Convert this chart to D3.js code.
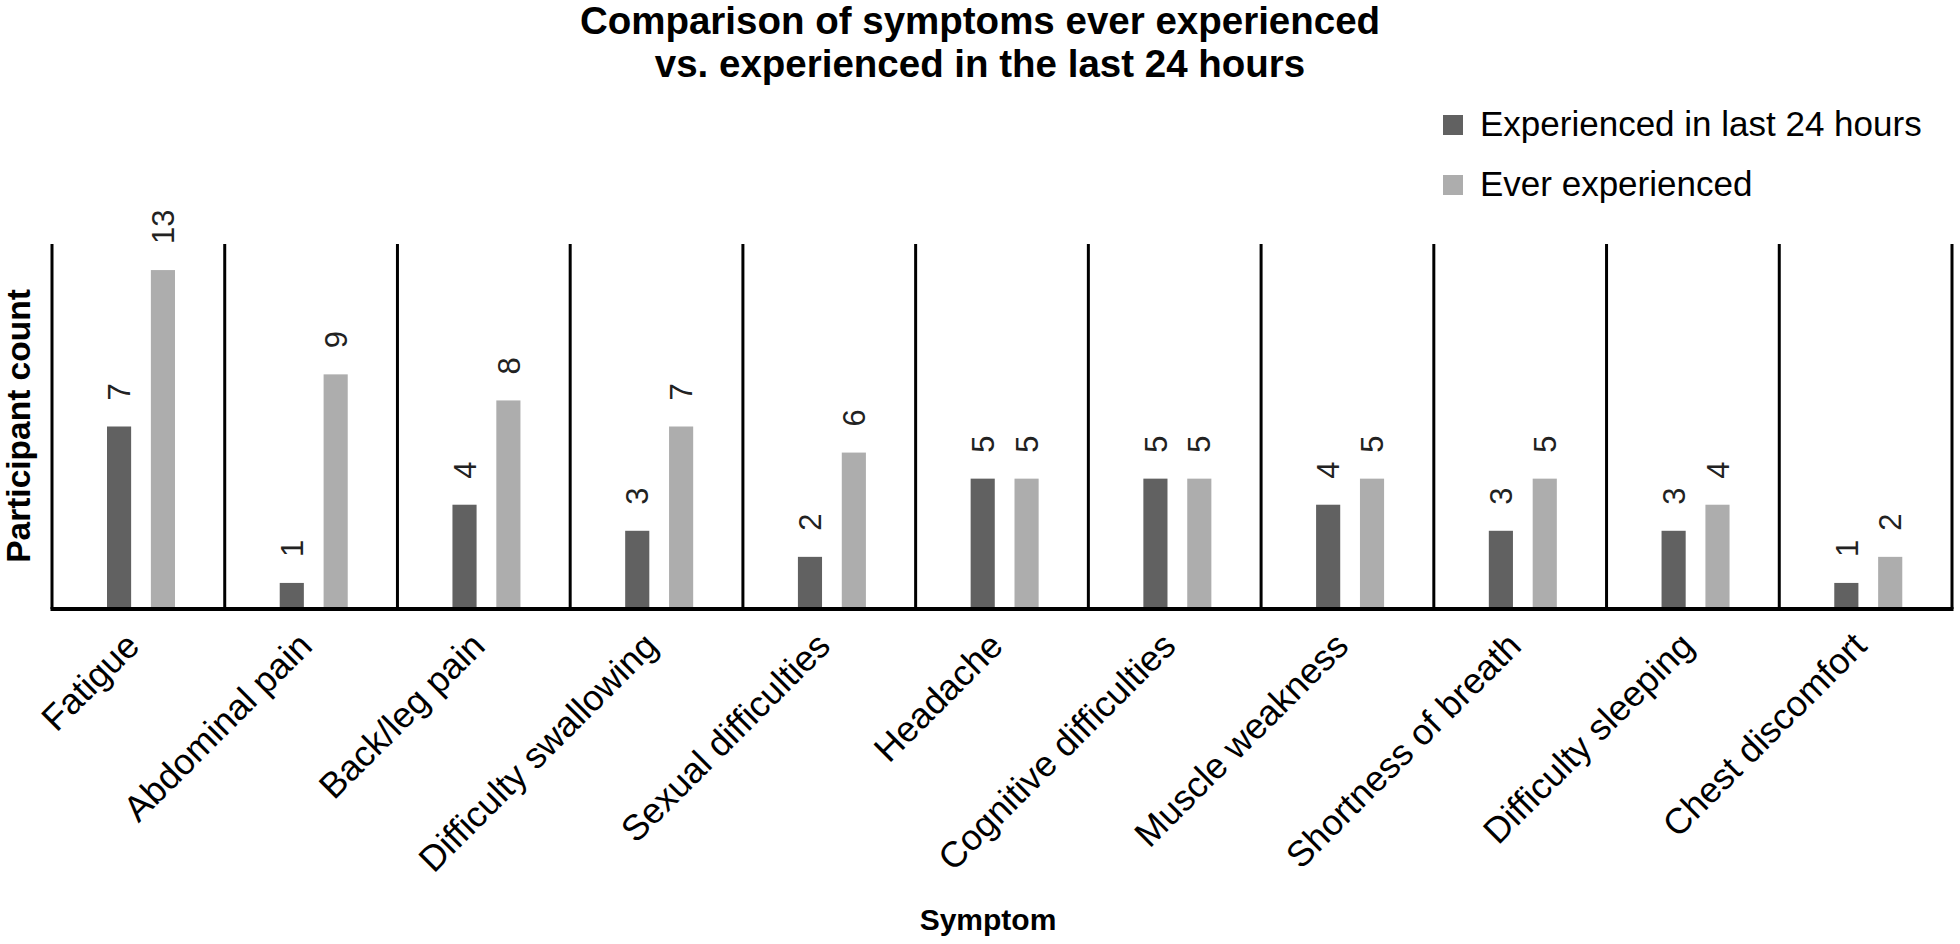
<!DOCTYPE html>
<html>
<head>
<meta charset="utf-8">
<script src="https://cdn.jsdelivr.net/npm/d3@7/dist/d3.min.js"></script>
<style>
  html, body { margin: 0; padding: 0; background: #fff; }
  svg { display: block; }
  text { font-family: "Liberation Sans", Arial, Helvetica, sans-serif; fill: #000; }
</style>
</head>
<body>
<svg id="chart" width="1960" height="944"></svg>
<script>
// ---- Data ----
const categories = ["Fatigue", "Abdominal pain", "Back/leg pain", "Difficulty swallowing",
  "Sexual difficulties", "Headache", "Cognitive difficulties", "Muscle weakness",
  "Shortness of breath", "Difficulty sleeping", "Chest discomfort"];
const seriesNames = ["Experienced in last 24 hours", "Ever experienced"];
const last24Values = [7, 1, 4, 3, 2, 5, 5, 4, 3, 3, 1];
const everValues = [13, 9, 8, 7, 6, 5, 5, 5, 5, 4, 2];
const seriesColors = ["#616161", "#adadad"];
const titleLines = ["Comparison of symptoms ever experienced", "vs. experienced in the last 24 hours"];
const yTitle = "Participant count";
const xTitle = "Symptom";

(function () {
const svg = d3.select("#chart");
const plotLeft = 52, plotRight = 1952, plotTop = 244, plotBottom = 609;

const x0 = d3.scaleBand().domain(categories).range([plotLeft, plotRight]).padding(0);
const x1 = d3.scaleBand().domain(seriesNames).range([55, 123]).paddingInner(0.45).paddingOuter(0);
const y = d3.scaleLinear().domain([0, 14]).range([plotBottom, plotTop]);

const rows = categories.map((c, i) => ({ cat: c, vals: [last24Values[i], everValues[i]] }));

// Title
svg.append("g").selectAll("text").data(titleLines).join("text")
  .attr("x", 980).attr("y", (d, i) => 34 + i * 43)
  .attr("text-anchor", "middle")
  .style("font-size", "38.5px").style("font-weight", "bold")
  .text(d => d);

// Legend
const legend = svg.append("g");
seriesNames.forEach((s, i) => {
  legend.append("rect").attr("x", 1443).attr("y", 115 + i * 60).attr("width", 20).attr("height", 20)
    .attr("fill", seriesColors[i]);
  legend.append("text").attr("x", 1480).attr("y", 136 + i * 60)
    .style("font-size", "35px").text(s);
});

// Bars
const groups = svg.append("g").selectAll("g").data(rows).join("g")
  .attr("transform", d => `translate(${x0(d.cat)},0)`);
groups.selectAll("rect").data(d => d.vals.map((v, j) => ({ v, s: seriesNames[j], j }))).join("rect")
  .attr("x", d => x1(d.s)).attr("width", x1.bandwidth())
  .attr("y", d => y(d.v)).attr("height", d => y(0) - y(d.v))
  .attr("fill", d => seriesColors[d.j]);

// Value labels (rotated)
groups.selectAll("text").data(d => d.vals.map((v, j) => ({ v, s: seriesNames[j], j }))).join("text")
  .attr("transform", d => `translate(${x1(d.s) + x1.bandwidth() / 2},${y(d.v) - 26}) rotate(-90)`)
  .attr("dy", "0.36em")
  .style("font-size", "31px").style("fill", "#222")
  .text(d => d.v);

// Divider lines / axes
const bounds = categories.map(c => x0(c)).concat([x0.range()[1]]);
svg.append("g").selectAll("line").data(bounds).join("line")
  .attr("x1", d => d).attr("x2", d => d)
  .attr("y1", y(14)).attr("y2", y(0))
  .attr("stroke", "#000").attr("stroke-width", 3);
svg.append("line").attr("x1", plotLeft - 1.5).attr("x2", plotRight + 1.5).attr("y1", y(0)).attr("y2", y(0))
  .attr("stroke", "#000").attr("stroke-width", 4);

// Category labels
svg.append("g").selectAll("text").data(categories).join("text")
  .attr("transform", d => `translate(${x0(d) + x0.bandwidth() / 2 + 3},${648}) rotate(-45)`)
  .attr("text-anchor", "end")
  .style("font-size", "36px")
  .text(d => d);

// Axis titles
svg.append("text")
  .attr("transform", `translate(30,426) rotate(-90)`)
  .attr("text-anchor", "middle")
  .style("font-size", "33.5px").style("font-weight", "bold")
  .text(yTitle);
svg.append("text").attr("x", 988).attr("y", 930).attr("text-anchor", "middle")
  .style("font-size", "30px").style("font-weight", "bold")
  .text(xTitle);
})();
</script>
</body>
</html>
